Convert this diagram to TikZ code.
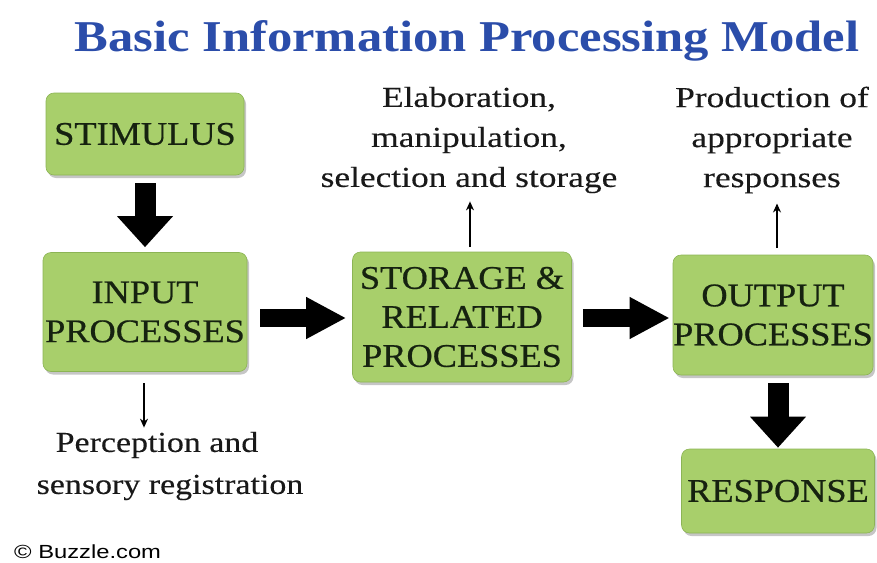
\documentclass[tikz,border=0pt]{standalone}
\usepackage{fontspec}
\setmainfont{Liberation Serif}
\newfontfamily\titlefont[FakeStretch=1.15]{Liberation Serif}
\newfontfamily\stagefont[FakeStretch=1.1, FakeBold=0.6]{Liberation Serif}
\newfontfamily\notefont[FakeStretch=1.22, FakeBold=0.3]{Liberation Serif}
\newfontfamily\percfont[FakeStretch=1.17, FakeBold=0.3]{Liberation Serif}
\newfontfamily\creditfont[FakeStretch=1.25]{Liberation Sans}
\usetikzlibrary{arrows.meta,shadows}
\definecolor{boxgreen}{RGB}{168,207,107}
\definecolor{boxedge}{RGB}{140,180,85}
\definecolor{titleblue}{RGB}{43,77,170}
\definecolor{stagetext}{RGB}{22,34,16}
\tikzset{
  stage/.style={rectangle, rounded corners=8pt, fill=boxgreen, draw=boxedge, line width=0.6pt,
    align=center, inner sep=0pt, text=stagetext, font=\stagefont\fontsize{33}{39}\selectfont,
    drop shadow={opacity=0.45, shadow xshift=2pt, shadow yshift=-3pt}},
  note/.style={align=center, inner sep=0pt, text=black!90, font=\notefont\fontsize{29}{40}\selectfont},
  vbigarrow/.style={line width=21pt, -{Triangle[length=31pt, width=54pt]}},
  hbigarrow/.style={line width=18pt, -{Triangle[length=40pt, width=39pt]}},
  thinarrow/.style={line width=1.2pt, -{Stealth[length=9pt, width=8pt]}}
}
\begin{document}
\begin{tikzpicture}[x=1pt, y=-1pt]
  \useasboundingbox (0,0) rectangle (877,562);

  % title
  \node (title) at (467,41) {\titlefont\bfseries\fontsize{44}{48}\selectfont\color{titleblue}Basic Information Processing Model};

  % stages
  \node[stage, minimum width=198pt, minimum height=82pt] (stim) at (145,134) {STIMULUS};
  \node[stage, minimum width=204pt, minimum height=119pt] (inp) at (145,312) {INPUT\\PROCESSES};
  \node[stage, minimum width=219pt, minimum height=130pt] (stor) at (462,317) {STORAGE \&\\RELATED\\PROCESSES};
  \node[stage, minimum width=200pt, minimum height=120pt] (outp) at (773,315) {OUTPUT\\PROCESSES};
  \node[stage, minimum width=193pt, minimum height=84pt] (resp) at (778,491) {RESPONSE};

  % annotations
  \node[note] (elab) at (469,140) {Elaboration,\\manipulation,\\selection and storage};
  \node[note] (prod) at (772,140) {Production of\\appropriate\\responses};
  \node[note, font=\percfont\fontsize{29}{42}\selectfont] (perc) at (170,466) {Perception and\hspace*{26pt}\\sensory registration};

  % main flow
  \draw[vbigarrow] ([yshift=-8pt]stim.south) -- ([yshift=5pt]inp.north -| stim.south);
  \draw[hbigarrow] ([xshift=13pt]inp.east |- 0,318) -- ([xshift=-6pt]stor.west |- 0,318);
  \draw[hbigarrow] ([xshift=11pt]stor.east |- 0,318) -- ([xshift=-3pt]outp.west |- 0,318);
  \draw[vbigarrow] ([yshift=-8pt]outp.south -| resp.north) -- ([yshift=1pt]resp.north);

  % side arrows
  \coordinate (elabfoot) at (470,247);
  \coordinate (prodfoot) at (777,248);
  \coordinate (percfoot) at (144,383);
  \draw[thinarrow] (elabfoot) -- ([yshift=-8pt]elab.south -| elabfoot);
  \draw[thinarrow] (prodfoot) -- ([yshift=-10pt]prod.south -| prodfoot);
  \draw[thinarrow] (percfoot) -- ([yshift=4pt]perc.north -| percfoot);

  % credit
  \node[anchor=west, inner sep=0pt] (credit) at (14,552) {\creditfont\fontsize{19}{22}\selectfont\textcopyright{} Buzzle.com};
\end{tikzpicture}
\end{document}
